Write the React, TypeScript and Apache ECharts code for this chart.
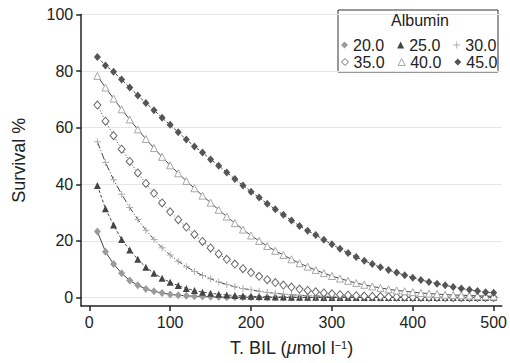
import React, { useEffect, useRef } from "react";
import * as echarts from "echarts";

const bilirubin = [
  10, 20, 30, 40, 50, 60, 70, 80, 90, 100,
  110, 120, 130, 140, 150, 160, 170, 180, 190, 200,
  210, 220, 230, 240, 250, 260, 270, 280, 290, 300,
  310, 320, 330, 340, 350, 360, 370, 380, 390, 400,
  410, 420, 430, 440, 450, 460, 470, 480, 490, 500,
];

const alb20 = [
  23.3, 16.2, 11.8, 8.6, 6.0, 4.3, 3.0, 2.2, 1.6, 1.1,
  0.8, 0.6, 0.45, 0.33, 0.25, 0.18, 0.13, 0.1, 0.07, 0.05,
  0.04, 0.03, 0.02, 0.02, 0.01, 0.01, 0, 0, 0, 0,
  0, 0, 0, 0, 0, 0, 0, 0, 0, 0,
  0, 0, 0, 0, 0, 0, 0, 0, 0, 0,
];
const alb25 = [
  39.6, 31.4, 25.6, 20.5, 16.8, 13.5, 10.7, 8.6, 6.8, 5.4,
  4.2, 3.2, 2.5, 1.9, 1.5, 1.15, 0.9, 0.7, 0.55, 0.42,
  0.32, 0.25, 0.19, 0.15, 0.11, 0.09, 0.07, 0.05, 0.04, 0.03,
  0.02, 0.02, 0.01, 0.01, 0.01, 0.01, 0, 0, 0, 0,
  0, 0, 0, 0, 0, 0, 0, 0, 0, 0,
];
const alb30 = [
  55.0, 47.7, 41.6, 36.5, 31.8, 27.6, 23.8, 20.5, 17.6, 15.0,
  12.8, 10.9, 9.2, 7.8, 6.6, 5.5, 4.6, 3.8, 3.2, 2.7,
  2.2, 1.8, 1.5, 1.2, 1.0, 0.8, 0.65, 0.55, 0.45, 0.35,
  0.3, 0.25, 0.2, 0.15, 0.12, 0.1, 0.08, 0.06, 0.05, 0.04,
  0.03, 0.03, 0.02, 0.02, 0.01, 0.01, 0.01, 0.01, 0.01, 0.01,
];
const alb35 = [
  68.0, 62.3, 57.2, 52.4, 48.1, 44.0, 40.3, 36.8, 33.4, 30.3,
  27.5, 24.9, 22.3, 19.8, 17.5, 15.4, 13.5, 11.8, 10.2, 8.8,
  7.5, 6.3, 5.3, 4.4, 3.7, 3.0, 2.5, 2.0, 1.6, 1.3,
  1.0, 0.8, 0.65, 0.5, 0.4, 0.32, 0.25, 0.2, 0.16, 0.12,
  0.1, 0.08, 0.06, 0.05, 0.04, 0.03, 0.03, 0.02, 0.02, 0.01,
];
const alb40 = [
  78.3, 74.2, 70.3, 66.5, 62.9, 59.4, 56.0, 52.8, 49.7, 46.7,
  43.9, 41.2, 38.6, 36.0, 33.5, 31.0, 28.6, 26.3, 24.0, 21.9,
  20.0, 18.2, 16.5, 15.0, 13.5, 12.1, 10.9, 9.7, 8.6, 7.6,
  6.7, 5.9, 5.1, 4.5, 3.9, 3.4, 2.9, 2.5, 2.2, 1.9,
  1.6, 1.4, 1.2, 1.0, 0.9, 0.8, 0.7, 0.6, 0.5, 0.4,
];
const alb45 = [
  85.0, 82.0, 79.8, 77.0, 74.2, 71.4, 68.7, 66.2, 63.5, 61.0,
  58.4, 55.8, 53.4, 51.2, 48.8, 46.6, 44.2, 41.9, 39.6, 37.4,
  35.3, 33.1, 31.2, 29.2, 27.2, 25.3, 23.6, 22.1, 20.4, 18.8,
  17.2, 15.7, 14.3, 13.0, 11.8, 10.7, 9.7, 8.8, 7.9, 7.0,
  6.2, 5.5, 4.9, 4.3, 3.7, 3.2, 2.7, 2.3, 1.9, 1.7,
];

const albuminLabels = ["20.0", "25.0", "30.0", "35.0", "40.0", "45.0"];
const seriesValues = [alb20, alb25, alb30, alb35, alb40, alb45];
const xTicks = [0, 100, 200, 300, 400, 500];
const yTicks = [0, 20, 40, 60, 80, 100];

const FONT = "'Liberation Sans', Arial, Helvetica, sans-serif";
const PLUS =
  "path://M-0.14,-1L0.14,-1L0.14,-0.14L1,-0.14L1,0.14L0.14,0.14L0.14,1L-0.14,1L-0.14,0.14L-1,0.14L-1,-0.14L-0.14,-0.14Z";

const markerStyles = [
  { symbol: "diamond", size: [7, 8], fill: "#9b9b9b", stroke: "#9b9b9b", dash: "solid" as any },
  { symbol: "triangle", size: [7, 7], fill: "#454545", stroke: "#454545", dash: [3, 2] as any },
  { symbol: PLUS, size: [7, 7], fill: "#b0b0b0", stroke: "#b0b0b0", dash: [7, 2, 1, 2] as any },
  { symbol: "diamond", size: [7, 8], fill: "#ffffff", stroke: "#6a6a6a", dash: [1, 2] as any },
  { symbol: "triangle", size: [7, 7], fill: "#ffffff", stroke: "#a8a8a8", dash: "solid" as any },
  { symbol: "diamond", size: [7, 8], fill: "#555555", stroke: "#555555", dash: [3, 2] as any },
];

export default function App() {
  const ref = useRef<HTMLDivElement>(null);

  useEffect(() => {
    if (!ref.current) return;
    const chart = echarts.init(ref.current, undefined, { renderer: "svg" });

    const axisColor = "#222";

    const series = albuminLabels.map((name, k) => {
      const st = markerStyles[k];
      return {
        name,
        type: "line",
        data: bilirubin.map((x, i) => [x, seriesValues[k][i]]),
        symbol: st.symbol,
        symbolSize: st.size,
        showAllSymbol: true,
        itemStyle: { color: st.fill, borderColor: st.stroke, borderWidth: st.fill === "#ffffff" ? 1 : 0 },
        lineStyle: { color: "#333", width: 0.9, type: st.dash },
        z: 2 + k,
      };
    });

    const legendItem = (k: number) => {
      const st = markerStyles[k];
      return {
        name: albuminLabels[k],
        icon: st.symbol,
        itemStyle: { color: st.fill, borderColor: st.stroke, borderWidth: st.fill === "#ffffff" ? 1 : 0 },
      };
    };

    const legendBase = {
      orient: "horizontal",
      left: 341,
      itemWidth: 7,
      itemHeight: 7,
      itemGap: 13,
      padding: 0,
      selectedMode: false,
      textStyle: { fontSize: 16, color: "#222", fontFamily: FONT },
    };

    chart.setOption({
      animation: false,
      backgroundColor: "#ffffff",
      grid: { left: 81.2, right: 5.8, top: 14.5, bottom: 57 },
      xAxis: {
        type: "value",
        min: -10,
        max: 510,
        axisLine: { show: true, onZero: false, lineStyle: { color: axisColor, width: 1.5 } },
        axisTick: { show: true, customValues: xTicks, length: 5, lineStyle: { color: axisColor, width: 1.5 } },
        axisLabel: { customValues: xTicks, fontSize: 16, color: "#222", fontFamily: FONT, margin: 8 },
        splitLine: { show: false },
        name: "{t|T. BIL (}{m|μ}{t|mol l}{s|−1}{t|)}",
        nameLocation: "middle",
        nameGap: 33,
        nameTextStyle: {
          fontSize: 18,
          color: "#222",
          fontFamily: FONT,
          rich: {
            t: { fontSize: 18, color: "#222", fontFamily: FONT },
            m: { fontSize: 18, color: "#222", fontFamily: FONT, fontStyle: "italic" },
            s: { fontSize: 11, color: "#222", fontFamily: FONT, verticalAlign: "top" },
          },
        },
      },
      yAxis: {
        type: "value",
        min: -3,
        max: 100,
        axisLine: { show: true, onZero: false, lineStyle: { color: axisColor, width: 1.5 } },
        axisTick: { show: true, customValues: yTicks, length: 5, lineStyle: { color: axisColor, width: 1.5 } },
        axisLabel: { customValues: yTicks, fontSize: 16, color: "#222", fontFamily: FONT, margin: 8 },
        splitLine: { show: true, lineStyle: { color: "#e6e6e6", width: 1 } },
        name: "Survival %",
        nameLocation: "middle",
        nameGap: 53,
        nameTextStyle: { fontSize: 18, color: "#222", fontFamily: FONT },
      },
      legend: [
        { ...legendBase, top: 37, data: [0, 1, 2].map(legendItem) },
        { ...legendBase, top: 54, data: [3, 4, 5].map(legendItem) },
      ],
      graphic: [
        {
          type: "rect",
          shape: { x: 338, y: 10, width: 160, height: 62 },
          style: { fill: "#ffffff", stroke: "#333", lineWidth: 1 },
          z: 0,
          silent: true,
        },
        {
          type: "text",
          x: 420,
          y: 20,
          style: {
            text: "Albumin",
            fontSize: 16,
            fontFamily: FONT,
            fill: "#222",
            align: "center",
            verticalAlign: "middle",
          },
          z: 1,
        },
      ],
      series,
    });

    return () => chart.dispose();
  }, []);

  return (
    <div
      ref={ref}
      style={{ position: "fixed", left: 0, top: 0, width: 510, height: 363 }}
    />
  );
}
